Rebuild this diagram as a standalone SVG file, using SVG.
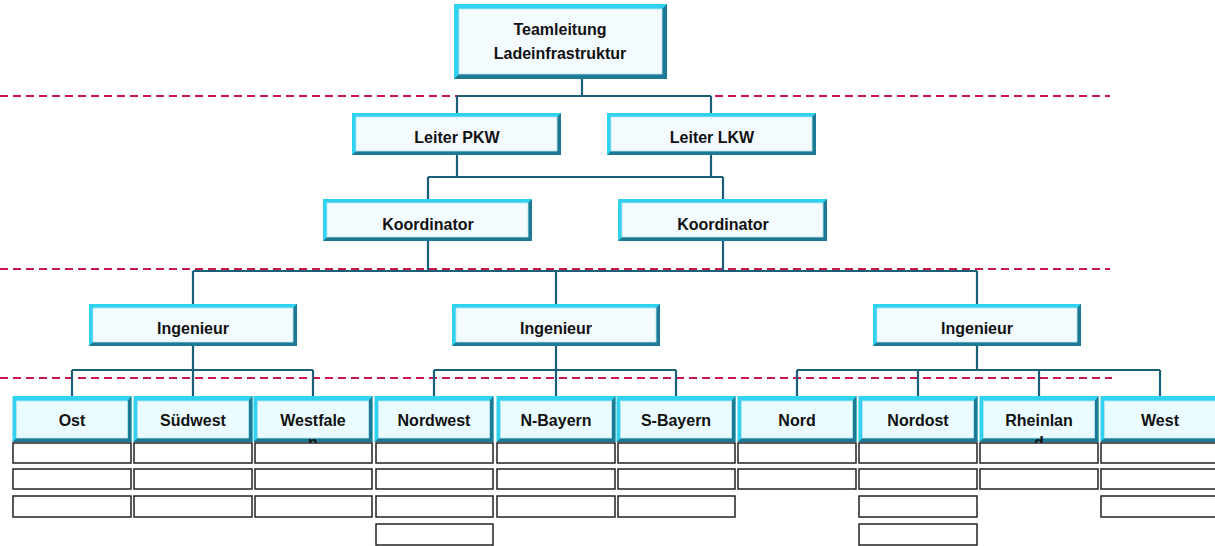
<svg xmlns="http://www.w3.org/2000/svg" width="1215" height="546" viewBox="0 0 1215 546">
<style>
.lt{fill:#30d2ef}
.dk{fill:#1c7a95}
.in{fill:#f4fbff;stroke:#b8e6f0;stroke-width:0.8}
.rin{fill:#eafcff;stroke:#b8e6f0;stroke-width:0.8}
.t{font-family:"Liberation Sans",Arial,sans-serif;font-weight:bold;font-size:16px;fill:#111;text-anchor:middle}
.c{stroke:#1b5e78;stroke-width:2.2;fill:none}
.dash{stroke:#c8174a;stroke-width:2;stroke-dasharray:8 5;fill:none}
.row{fill:#fff;stroke:#222;stroke-width:1.5}
</style>
<rect width="1215" height="546" fill="#fff"/>
<g id="dashes">
<path class="dash" d="M0,96 H1110"/>
<path class="dash" d="M0,269 H1110"/>
<path class="dash" d="M0,378 H1112"/>
</g>
<g id="connectors">
<path class="c" d="M582,79 V96 M457,96 H711 M457,96 V113 M711,96 V113"/>
<path class="c" d="M457,155 V177 M711,155 V177 M428,177 H723 M428,177 V199 M723,177 V199"/>
<path class="c" d="M428,241 V271 M723,241 V271 M193,271 H977 M193,271 V304 M556,271 V304 M977,271 V304"/>
<path class="c" d="M193,346 V370 M72,370 H313 M72,370 V396 M193,370 V396 M313,370 V396"/>
<path class="c" d="M556,346 V370 M434,370 H676 M434,370 V396 M556,370 V396 M676,370 V396"/>
<path class="c" d="M977,346 V370 M797,370 H1160 M797,370 V396 M918,370 V396 M1039,370 V396 M1160,370 V396"/>
</g>
<g id="n-top" transform="translate(454,4)">
<rect class="lt" width="213" height="75"/>
<polygon class="dk" points="213,0 213,75 0,75 5,70 208,70 208,5"/>
<rect class="in" x="5" y="5" width="203" height="65"/>
<text class="t"><tspan x="106" y="31">Teamleitung</tspan><tspan x="106" y="55">Ladeinfrastruktur</tspan></text>
</g>
<g id="n-pkw" transform="translate(352,113)">
<rect class="lt" width="209" height="42"/>
<polygon class="dk" points="209,0 209,42 0,42 4,38 205,38 205,4"/>
<rect class="in" x="4" y="4" width="201" height="34"/>
<text class="t" x="105" y="30">Leiter PKW</text>
</g>
<g id="n-lkw" transform="translate(607,113)">
<rect class="lt" width="209" height="42"/>
<polygon class="dk" points="209,0 209,42 0,42 4,38 205,38 205,4"/>
<rect class="in" x="4" y="4" width="201" height="34"/>
<text class="t" x="105" y="30">Leiter LKW</text>
</g>
<g id="n-koord1" transform="translate(323,199)">
<rect class="lt" width="209" height="42"/>
<polygon class="dk" points="209,0 209,42 0,42 4,38 205,38 205,4"/>
<rect class="in" x="4" y="4" width="201" height="34"/>
<text class="t" x="105" y="31">Koordinator</text>
</g>
<g id="n-koord2" transform="translate(618,199)">
<rect class="lt" width="209" height="42"/>
<polygon class="dk" points="209,0 209,42 0,42 4,38 205,38 205,4"/>
<rect class="in" x="4" y="4" width="201" height="34"/>
<text class="t" x="105" y="31">Koordinator</text>
</g>
<g id="n-ing1" transform="translate(89,304)">
<rect class="lt" width="208" height="42"/>
<polygon class="dk" points="208,0 208,42 0,42 4,38 204,38 204,4"/>
<rect class="in" x="4" y="4" width="200" height="34"/>
<text class="t" x="104" y="30">Ingenieur</text>
</g>
<g id="n-ing2" transform="translate(452,304)">
<rect class="lt" width="208" height="42"/>
<polygon class="dk" points="208,0 208,42 0,42 4,38 204,38 204,4"/>
<rect class="in" x="4" y="4" width="200" height="34"/>
<text class="t" x="104" y="30">Ingenieur</text>
</g>
<g id="n-ing3" transform="translate(873,304)">
<rect class="lt" width="208" height="42"/>
<polygon class="dk" points="208,0 208,42 0,42 4,38 204,38 204,4"/>
<rect class="in" x="4" y="4" width="200" height="34"/>
<text class="t" x="104" y="30">Ingenieur</text>
</g>
<g id="n-ost" transform="translate(12.5,396)">
<rect class="lt" width="119" height="46"/>
<polygon class="dk" points="119,0 119,46 0,46 4,42 115,42 115,5"/>
<rect class="rin" x="4" y="5" width="111" height="37"/>
<text class="t" x="59.5" y="30">Ost</text>
</g>
<g id="n-suedwest" transform="translate(133.5,396)">
<rect class="lt" width="119" height="46"/>
<polygon class="dk" points="119,0 119,46 0,46 4,42 115,42 115,5"/>
<rect class="rin" x="4" y="5" width="111" height="37"/>
<text class="t" x="59.5" y="30">Südwest</text>
</g>
<g id="n-westfalen" transform="translate(253.5,396)">
<rect class="lt" width="119" height="46"/>
<polygon class="dk" points="119,0 119,46 0,46 4,42 115,42 115,5"/>
<rect class="rin" x="4" y="5" width="111" height="37"/>
<text class="t"><tspan x="59.5" y="30">Westfale</tspan><tspan x="59.5" y="52">n</tspan></text>
</g>
<g id="n-nordwest" transform="translate(374.5,396)">
<rect class="lt" width="119" height="46"/>
<polygon class="dk" points="119,0 119,46 0,46 4,42 115,42 115,5"/>
<rect class="rin" x="4" y="5" width="111" height="37"/>
<text class="t" x="59.5" y="30">Nordwest</text>
</g>
<g id="n-nbayern" transform="translate(496.5,396)">
<rect class="lt" width="119" height="46"/>
<polygon class="dk" points="119,0 119,46 0,46 4,42 115,42 115,5"/>
<rect class="rin" x="4" y="5" width="111" height="37"/>
<text class="t" x="59.5" y="30">N-Bayern</text>
</g>
<g id="n-sbayern" transform="translate(616.5,396)">
<rect class="lt" width="119" height="46"/>
<polygon class="dk" points="119,0 119,46 0,46 4,42 115,42 115,5"/>
<rect class="rin" x="4" y="5" width="111" height="37"/>
<text class="t" x="59.5" y="30">S-Bayern</text>
</g>
<g id="n-nord" transform="translate(737.5,396)">
<rect class="lt" width="119" height="46"/>
<polygon class="dk" points="119,0 119,46 0,46 4,42 115,42 115,5"/>
<rect class="rin" x="4" y="5" width="111" height="37"/>
<text class="t" x="59.5" y="30">Nord</text>
</g>
<g id="n-nordost" transform="translate(858.5,396)">
<rect class="lt" width="119" height="46"/>
<polygon class="dk" points="119,0 119,46 0,46 4,42 115,42 115,5"/>
<rect class="rin" x="4" y="5" width="111" height="37"/>
<text class="t" x="59.5" y="30">Nordost</text>
</g>
<g id="n-rheinland" transform="translate(979.5,396)">
<rect class="lt" width="119" height="46"/>
<polygon class="dk" points="119,0 119,46 0,46 4,42 115,42 115,5"/>
<rect class="rin" x="4" y="5" width="111" height="37"/>
<text class="t"><tspan x="59.5" y="30">Rheinlan</tspan><tspan x="59.5" y="52">d</tspan></text>
</g>
<g id="n-west" transform="translate(1100.5,396)">
<rect class="lt" width="119" height="46"/>
<polygon class="dk" points="119,0 119,46 0,46 4,42 115,42 115,5"/>
<rect class="rin" x="4" y="5" width="111" height="37"/>
<text class="t" x="59.5" y="30">West</text>
</g>
<g id="rows">
<rect class="row" x="13" y="443" width="118" height="20"/>
<rect class="row" x="13" y="469" width="118" height="20"/>
<rect class="row" x="13" y="496" width="118" height="21"/>
<rect class="row" x="134" y="443" width="118" height="20"/>
<rect class="row" x="134" y="469" width="118" height="20"/>
<rect class="row" x="134" y="496" width="118" height="21"/>
<rect class="row" x="255" y="443" width="117" height="20"/>
<rect class="row" x="255" y="469" width="117" height="20"/>
<rect class="row" x="255" y="496" width="117" height="21"/>
<rect class="row" x="376" y="443" width="117" height="20"/>
<rect class="row" x="376" y="469" width="117" height="20"/>
<rect class="row" x="376" y="496" width="117" height="21"/>
<rect class="row" x="376" y="524" width="117" height="21"/>
<rect class="row" x="497" y="443" width="118" height="20"/>
<rect class="row" x="497" y="469" width="118" height="20"/>
<rect class="row" x="497" y="496" width="118" height="21"/>
<rect class="row" x="618" y="443" width="117" height="20"/>
<rect class="row" x="618" y="469" width="117" height="20"/>
<rect class="row" x="618" y="496" width="117" height="21"/>
<rect class="row" x="738" y="443" width="118" height="20"/>
<rect class="row" x="738" y="469" width="118" height="20"/>
<rect class="row" x="859" y="443" width="118" height="20"/>
<rect class="row" x="859" y="469" width="118" height="20"/>
<rect class="row" x="859" y="496" width="118" height="21"/>
<rect class="row" x="859" y="524" width="118" height="21"/>
<rect class="row" x="980" y="443" width="118" height="20"/>
<rect class="row" x="980" y="469" width="118" height="20"/>
<rect class="row" x="1101" y="443" width="118" height="20"/>
<rect class="row" x="1101" y="469" width="118" height="20"/>
<rect class="row" x="1101" y="496" width="118" height="21"/>
</g>
</svg>
